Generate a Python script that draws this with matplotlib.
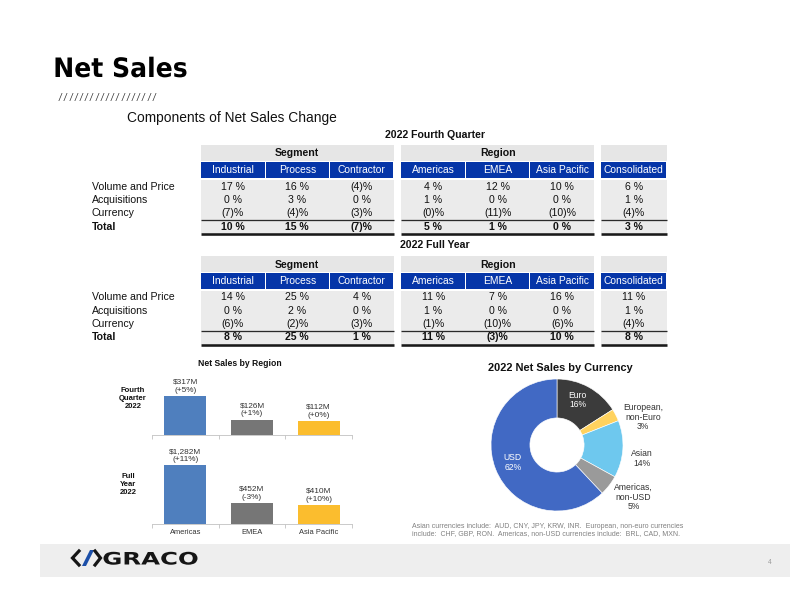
import matplotlib
matplotlib.use('Agg')
import matplotlib.pyplot as plt
from matplotlib.patches import Rectangle, Polygon, PathPatch
from matplotlib.textpath import TextPath
from matplotlib.font_manager import FontProperties
from matplotlib.transforms import Affine2D
import numpy as np

W, H = 792, 612
plt.rcParams['font.family'] = ['Liberation Sans', 'DejaVu Sans']

# ---------------- data ----------------
row_labels = ['Volume and Price', 'Acquisitions', 'Currency', 'Total']
segment_cols = ['Industrial', 'Process', 'Contractor']
region_cols = ['Americas', 'EMEA', 'Asia Pacific']
consol_cols = ['Consolidated']

q4_industrial = ['17 %', '0 %', '(7)%', '10 %']
q4_process = ['16 %', '3 %', '(4)%', '15 %']
q4_contractor = ['(4)%', '0 %', '(3)%', '(7)%']
q4_americas = ['4 %', '1 %', '(0)%', '5 %']
q4_emea = ['12 %', '0 %', '(11)%', '1 %']
q4_apac = ['10 %', '0 %', '(10)%', '0 %']
q4_consolidated = ['6 %', '1 %', '(4)%', '3 %']

fy_industrial = ['14 %', '0 %', '(6)%', '8 %']
fy_process = ['25 %', '2 %', '(2)%', '25 %']
fy_contractor = ['4 %', '0 %', '(3)%', '1 %']
fy_americas = ['11 %', '1 %', '(1)%', '11 %']
fy_emea = ['7 %', '0 %', '(10)%', '(3)%']
fy_apac = ['16 %', '0 %', '(6)%', '10 %']
fy_consolidated = ['11 %', '1 %', '(4)%', '8 %']

bar_regions = ['Americas', 'EMEA', 'Asia Pacific']
q4_sales = [317, 126, 112]
q4_growth = ['+5%', '+1%', '+0%']
fy_sales = [1282, 452, 410]
fy_growth = ['+11%', '-3%', '+10%']

currency_labels = ['Euro', 'European,\nnon-Euro', 'Asian', 'Americas,\nnon-USD', 'USD']
currency_share = [16, 3, 14, 5, 62]

footnote = ('Asian currencies include:  AUD, CNY, JPY, KRW, INR.  European, non-euro currencies\n'
            'include:  CHF, GBP, RON.  Americas, non-USD currencies include:  BRL, CAD, MXN.')

# ---------------- style ----------------
BLUE = '#0535A8'
HDR_GRAY = '#E6E6E6'
BODY_GRAY = '#EBEBEB'
TXT = '#111111'
bar_colors = ['#4F7FBE', '#767676', '#FBBD2E']
pie_colors = ['#3B3B3B', '#FFD25E', '#6EC8EE', '#9A9A9A', '#4169C4']

fig = plt.figure(figsize=(W / 72, H / 72), dpi=72)
bg = fig.add_axes([0, 0, 1, 1])
bg.set_xlim(0, W)
bg.set_ylim(H, 0)
bg.axis('off')


def path_text(s, x0, baseline, width, cap, color, family='DejaVu Sans', weight='bold'):
    fp = FontProperties(family=family, weight=weight)
    tp = TextPath((0, 0), s, size=1, prop=fp)
    ext = tp.get_extents()
    capref = TextPath((0, 0), 'H', size=1, prop=fp).get_extents().height
    tr = Affine2D().translate(-ext.x0, 0).scale(width / ext.width, -cap / capref).translate(x0, baseline)
    bg.add_patch(PathPatch(tr.transform_path(tp), facecolor=color, lw=0))


# Title
path_text('Net Sales', 55.5, 77, 131, 19.5, 'black')
for i in range(19):
    bg.text(60 + i * 5.2, 98, '/', fontsize=9.5, style='italic', color='#333333',
            ha='center', va='center')
bg.text(127, 118, 'Components of Net Sales Change', fontsize=13.8, va='center',
        ha='left', color=TXT)

# ---------------- tables ----------------
row_dy = [41.5, 55, 68, 81.5]


def draw_table(T, title, seg_data, reg_data, con_data):
    bg.text(435, T - 10.5, title, ha='center', va='center', fontsize=10.5,
            weight='bold', color=TXT)
    groups = [(200.7, 'Segment', segment_cols, seg_data, 64.4),
              (401.0, 'Region', region_cols, reg_data, 64.4),
              (601.0, None, consol_cols, con_data, 65.5)]
    for gx, gname, cols, data, cw in groups:
        gw = cw * len(cols)
        bg.add_patch(Rectangle((gx, T), gw, 16, color=HDR_GRAY, lw=0))
        if gname:
            bg.text(gx + gw / 2, T + 8.5, gname, ha='center', va='center',
                    fontsize=10.5, weight='bold', color=TXT)
        bg.add_patch(Rectangle((gx, T + 35), gw, 53, color=BODY_GRAY, lw=0))
        for j, c in enumerate(cols):
            x0 = gx + j * cw + (0.6 if j else 0)
            bg.add_patch(Rectangle((x0, T + 17), cw - (1.2 if j else 0.6), 15.5,
                                   color=BLUE, lw=0))
            bg.text(gx + (j + 0.5) * cw, T + 25, c, ha='center', va='center',
                    fontsize=10.2, color='white')
            for i, v in enumerate(data[j]):
                bg.text(gx + (j + 0.5) * cw, T + row_dy[i], v, ha='center',
                        va='center', fontsize=10.5, color=TXT,
                        weight='bold' if i == 3 else 'normal')
        bg.plot([gx, gx + gw], [T + 75, T + 75], color='#2A2A2A', lw=1.3,
                solid_capstyle='butt')
        bg.plot([gx, gx + gw], [T + 88.5, T + 88.5], color='#1A1A1A', lw=2.6,
                solid_capstyle='butt')
    for i, lab in enumerate(row_labels):
        bg.text(91.5, T + row_dy[i], lab, ha='left', va='center', fontsize=10.5,
                color=TXT, weight='bold' if i == 3 else 'normal')


draw_table(145, '2022 Fourth Quarter',
           [q4_industrial, q4_process, q4_contractor],
           [q4_americas, q4_emea, q4_apac], [q4_consolidated])
draw_table(256, '2022 Full Year',
           [fy_industrial, fy_process, fy_contractor],
           [fy_americas, fy_emea, fy_apac], [fy_consolidated])

# ---------------- bar charts ----------------
bg.text(240, 364, 'Net Sales by Region', ha='center', va='center', fontsize=8.6,
        weight='bold', color=TXT)


def bar_chart(top_px, base_px, sales, growth, ymax, show_cats):
    ax = fig.add_axes([152 / W, 1 - base_px / H, 200 / W, (base_px - top_px) / H])
    ax.patch.set_alpha(0)
    x = np.arange(len(sales))
    ax.bar(x, sales, width=0.63, color=bar_colors)
    ax.set_xlim(-0.5, len(sales) - 0.5)
    ax.set_ylim(0, ymax)
    for s in ['top', 'left', 'right']:
        ax.spines[s].set_visible(False)
    ax.spines['bottom'].set_color('#BFBFBF')
    ax.spines['bottom'].set_linewidth(0.8)
    ax.set_yticks([])
    ax.set_xticks(x)
    ax.set_xticklabels(bar_regions if show_cats else [], fontsize=7.5, color='#333333')
    ax.tick_params(axis='x', which='major', length=0, pad=5)
    ax.set_xticks(np.arange(len(sales) + 1) - 0.5, minor=True)
    ax.tick_params(axis='x', which='minor', length=4, color='#BFBFBF', width=0.8)
    for xi, v, g in zip(x, sales, growth):
        ax.annotate(f'${v:,}M\n({g})', (xi, v), xytext=(0, 2.5),
                    textcoords='offset points', ha='center', va='bottom',
                    fontsize=8.2, color='#333333', linespacing=1.15,
                    annotation_clip=False)
    return ax


bar_chart(375, 435, q4_sales, q4_growth, 60 / 0.123, False)
bar_chart(445, 524, fy_sales, fy_growth, 79 / 0.046, True)

bg.text(133, 398, 'Fourth\nQuarter\n2022', ha='center', va='center', fontsize=7.6,
        weight='bold', color=TXT, linespacing=1.2)
bg.text(128, 484, 'Full\nYear\n2022', ha='center', va='center', fontsize=7.6,
        weight='bold', color=TXT, linespacing=1.2)

# ---------------- donut ----------------
cx, cy, R = 557, 445, 66
pax = fig.add_axes([(cx - R) / W, 1 - (cy + R) / H, 2 * R / W, 2 * R / H])
pax.pie(currency_share, colors=pie_colors, startangle=90, counterclock=False,
        wedgeprops=dict(width=0.59, edgecolor='white', linewidth=0.6))
pax.set_xlim(-1, 1)
pax.set_ylim(-1, 1)
pax.set_aspect('equal')
label_xy = [(0.31, 0.68), (1.30, 0.42), (1.29, -0.20), (1.16, -0.79), (-0.67, -0.27)]
label_col = ['white', '#333333', '#333333', '#333333', 'white']
for lab, sh, (lx, ly), lc in zip(currency_labels, currency_share, label_xy, label_col):
    pax.text(lx, ly, f'{lab}\n{sh}%', ha='center', va='center', fontsize=8.6,
             color=lc, linespacing=1.1, clip_on=False)
bg.text(560, 368, '2022 Net Sales by Currency', ha='center', va='center',
        fontsize=11, weight='bold', color=TXT)

bg.text(412, 530, footnote, ha='left', va='center', fontsize=7.0,
        color='#808080', linespacing=1.2)

# ---------------- footer band ----------------
bg.add_patch(Rectangle((40, 544), 750, 33, color='#EEEEEE', lw=0))
path_text('GRACO', 103.5, 564.5, 94, 12.5, '#151515')
bg.plot([79, 72.5, 79], [551, 558, 565], color='#151515', lw=3.2,
        solid_joinstyle='miter')
bg.add_patch(Polygon([[82, 566], [86, 566], [94, 550], [90, 550]], color='#1C4FA8', lw=0))
bg.plot([95, 100.5, 95], [551, 558, 565], color='#151515', lw=3.2,
        solid_joinstyle='miter')
bg.text(770, 563, '4', fontsize=6.5, color='#999999', ha='center', va='center')

fig.savefig('out.png', dpi=72)
